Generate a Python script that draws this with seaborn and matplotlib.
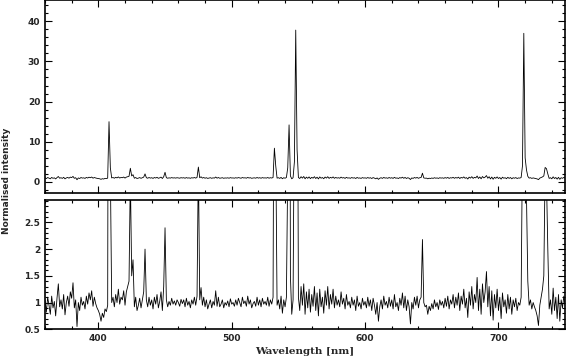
import numpy as np
import pandas as pd
import seaborn as sns
import matplotlib.pyplot as plt
from matplotlib.ticker import MultipleLocator

# Wavelength grid [nm], 1 nm sampling
wavelength = np.arange(360, 751)

# Normalised intensity (one row = 10 nm)
intensity = [
    1.05, 0.82, 1.10, 0.95, 0.78, 1.12, 0.90, 1.02, 0.75, 1.08,   # 360
    1.35, 0.92, 1.05, 0.88, 1.15, 0.77, 1.00, 1.12, 0.93, 1.20,   # 370
    1.08, 1.37, 0.90, 1.05, 0.55, 1.00, 0.85, 1.10, 0.95, 1.02,   # 380
    0.88, 1.12, 0.97, 1.18, 1.05, 1.22, 0.93, 1.10, 0.98, 0.90,   # 390
    0.85, 0.78, 0.65, 0.80, 0.72, 0.88, 0.83, 0.95, 15.0, 3.50,   # 400
    1.00, 1.10, 0.92, 1.15, 1.00, 1.25, 0.97, 1.10, 1.05, 1.22,   # 410
    0.95, 1.20, 1.30, 1.40, 3.40, 1.50, 1.80, 0.92, 1.10, 0.85,   # 420
    0.95, 1.08, 0.90, 1.05, 1.20, 2.00, 1.05, 0.92, 1.10, 0.95,   # 430
    1.05, 0.88, 1.10, 0.97, 1.15, 0.90, 1.02, 1.20, 0.85, 1.30,   # 440
    2.40, 1.05, 0.92, 1.02, 0.95, 1.08, 0.97, 1.03, 0.95, 1.05,   # 450
    1.00, 0.93, 1.06, 0.98, 1.05, 0.92, 1.08, 0.95, 1.02, 0.90,   # 460
    1.05, 0.97, 1.10, 0.95, 1.12, 3.70, 1.05, 1.28, 0.95, 1.10,   # 470
    0.92, 1.05, 0.88, 0.97, 1.05, 0.90, 1.02, 0.95, 1.22, 0.93,   # 480
    1.10, 0.92, 0.97, 1.05, 0.90, 1.00, 0.95, 1.03, 0.92, 1.07,   # 490
    0.97, 1.00, 0.93, 1.05, 0.95, 1.08, 1.00, 0.92, 1.10, 0.98,   # 500
    1.03, 0.93, 1.12, 0.97, 1.05, 0.90, 0.98, 1.02, 0.93, 1.10,   # 510
    0.95, 1.05, 0.92, 1.08, 0.97, 1.02, 0.95, 1.10, 0.93, 1.05,   # 520
    0.97, 1.10, 8.40, 4.00, 0.95, 1.05, 0.88, 1.12, 0.80, 1.05,   # 530
    0.92, 1.10, 3.50, 14.2, 1.50, 0.78, 1.05, 5.00, 37.8, 8.00,   # 540
    1.10, 0.85, 1.30, 0.95, 1.35, 0.78, 1.20, 0.90, 1.25, 0.82,   # 550
    1.15, 0.93, 1.30, 0.85, 1.18, 0.75, 1.25, 0.92, 1.10, 0.80,   # 560
    1.22, 0.95, 1.30, 0.88, 1.15, 0.97, 1.25, 0.90, 1.12, 0.95,   # 570
    1.05, 0.92, 1.20, 0.97, 1.08, 0.88, 1.15, 0.95, 1.02, 0.90,   # 580
    1.10, 0.95, 1.05, 0.85, 1.12, 0.93, 1.00, 0.88, 1.08, 0.95,   # 590
    1.02, 0.90, 1.10, 0.93, 1.05, 0.85, 1.08, 0.95, 0.78, 1.00,   # 600
    0.65, 0.92, 1.05, 0.88, 1.12, 0.95, 1.02, 0.90, 1.10, 0.93,   # 610
    1.05, 0.88, 1.15, 0.92, 1.00, 0.85, 1.08, 0.95, 1.18, 0.90,   # 620
    1.12, 0.85, 1.05, 0.92, 0.60, 1.00, 0.88, 1.10, 0.95, 1.12,   # 630
    0.90, 1.05, 1.10, 2.18, 1.00, 0.92, 0.95, 0.78, 0.93, 0.85,   # 640
    0.98, 0.88, 1.05, 0.92, 1.00, 0.87, 1.05, 0.95, 1.02, 0.90,   # 650
    1.08, 0.93, 1.12, 0.88, 1.05, 0.97, 1.15, 0.90, 1.10, 0.95,   # 660
    1.18, 0.85, 1.12, 0.97, 1.25, 0.90, 1.08, 0.72, 1.20, 0.95,   # 670
    1.30, 0.88, 1.15, 1.00, 1.47, 0.85, 1.25, 0.78, 1.35, 1.00,   # 680
    1.20, 1.58, 0.92, 1.30, 0.75, 1.22, 0.67, 1.15, 0.90, 1.25,   # 690
    0.85, 1.10, 0.70, 1.18, 0.92, 1.05, 0.80, 1.15, 0.88, 1.10,   # 700
    0.78, 1.05, 0.92, 1.08, 0.85, 1.00, 0.95, 1.10, 4.00, 37.0,   # 710
    6.00, 3.00, 1.40, 0.95, 1.05, 0.88, 1.00, 0.92, 0.85, 0.75,   # 720
    0.57, 0.95, 1.10, 1.25, 1.50, 3.60, 3.30, 2.00, 0.88, 1.05,   # 730
    0.78, 1.27, 0.85, 1.10, 0.70, 1.15, 0.65, 1.05, 0.90, 1.12,   # 740
    0.95,                                                         # 750
]

df = pd.DataFrame({"wavelength": wavelength, "intensity": intensity})

sns.set_style("ticks")
plt.rcParams["font.family"] = ["DejaVu Sans"]
plt.rcParams["font.weight"] = "bold"

fig = plt.figure(figsize=(5.66, 3.61), dpi=100)
ax_top = fig.add_axes([0.0795, 0.466, 0.919, 0.533])
ax_bot = fig.add_axes([0.0795, 0.088, 0.919, 0.358])

for ax in (ax_top, ax_bot):
    sns.lineplot(data=df, x="wavelength", y="intensity", ax=ax,
                 color="black", linewidth=0.6, estimator=None)
    ax.set_xlim(360, 750)
    ax.xaxis.set_major_locator(MultipleLocator(100))
    ax.xaxis.set_minor_locator(MultipleLocator(20))
    ax.tick_params(which="both", direction="in", top=True, right=True,
                   labelsize=6.5, width=0.8, color="black")
    ax.tick_params(which="major", length=5)
    ax.tick_params(which="minor", length=2.5)
    for s in ax.spines.values():
        s.set_linewidth(1.2)
        s.set_color("black")
    ax.set_xlabel("")
    ax.set_ylabel("")

ax_top.set_ylim(-2.7, 45.2)
ax_top.yaxis.set_major_locator(MultipleLocator(10))
ax_top.yaxis.set_minor_locator(MultipleLocator(2))
ax_top.tick_params(labelbottom=False)

ax_bot.set_ylim(0.5, 2.92)
ax_bot.yaxis.set_major_locator(MultipleLocator(0.5))
ax_bot.yaxis.set_minor_locator(MultipleLocator(0.1))
ax_bot.set_yticks([0.5, 1, 1.5, 2, 2.5])
ax_bot.set_yticklabels(["0.5", "1", "1.5", "2", "2.5"])

ax_bot.set_xlabel("Wavelength [nm]", fontsize=7.5, fontweight="bold",
                  family="DejaVu Serif", labelpad=3)
fig.text(0.012, 0.5, "Normalised intensity", rotation=90, va="center",
         ha="center", fontsize=6.5, fontweight="bold")

fig.savefig("out.png", dpi=100)
